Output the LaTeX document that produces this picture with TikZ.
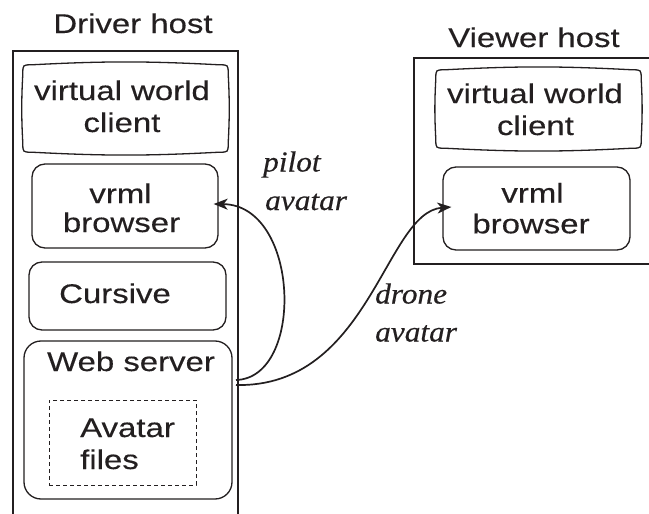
\documentclass[tikz,border=0pt]{standalone}
\usepackage{fontspec}
\setmainfont{Liberation Sans}[FakeStretch=1.22,FakeBold=0.3]
\newfontfamily\annotfont{Liberation Serif}[FakeStretch=1.08,FakeBold=0.4]
\usetikzlibrary{arrows.meta}
\definecolor{ink}{HTML}{231F20}

% outline of a "screen" box: slightly bowed edges with rounded corners
\newcommand\screenoutline[1]{%
  \draw[screenline] ([xshift=9pt]#1.north west) to[bend left=3] ([xshift=-9pt]#1.north east)
    .. controls (#1.north east) .. ([yshift=-9pt]#1.north east)
    to[bend left=3] ([yshift=9pt]#1.south east)
    .. controls (#1.south east) .. ([xshift=-9pt]#1.south east)
    to[bend left=3] ([xshift=9pt]#1.south west)
    .. controls (#1.south west) .. ([yshift=9pt]#1.south west)
    to[bend left=3] ([yshift=-9pt]#1.north west)
    .. controls (#1.north west) .. ([xshift=9pt]#1.north west) -- cycle;}

\begin{document}
\begin{tikzpicture}[x=1pt,y=-1pt,
  hostframe/.style={draw=ink, line width=2pt, inner sep=0pt, anchor=north west},
  part/.style={draw=ink, line width=1.3pt, rounded corners=13pt, inner sep=0pt},
  screenpart/.style={inner sep=0pt},
  screenline/.style={draw=ink, line width=1.3pt},
  store/.style={draw=ink, line width=1pt, dash pattern=on 4pt off 3pt, inner sep=0pt},
  txt/.style={text=ink, font=\fontsize{27}{32}\selectfont, anchor=base, inner sep=0pt},
  lbl/.style={text=ink, font=\annotfont\itshape\fontsize{29}{34}\selectfont, anchor=base west, inner sep=0pt},
  flow/.style={draw=ink, line width=1.7pt, -{Stealth[length=14pt,width=11pt,inset=4pt]}}
]
\clip (0,0) rectangle (649,514);
\fill[white] (0,0) rectangle (649,514);

% host frames (open towards the page edges)
\node[hostframe, minimum width=225pt, minimum height=490pt] (driver) at (12,50) {};
\node[hostframe, minimum width=250pt, minimum height=206pt] (viewer) at (413,57) {};
\node[txt] (driverlabel) at (133,33) {Driver host};
\node[txt] (viewerlabel) at (534,47) {Viewer host};

% driver host components
\node[screenpart, minimum width=205pt, minimum height=87pt] (dvwc) at (125.5,108.5) {};
\screenoutline{dvwc}
\node[txt] (dvwc1) at (122,100) {virtual world};
\node[txt] (dvwc2) at (122,132) {client};

\node[part, minimum width=186pt, minimum height=84pt] (dvrml) at (125,206) {};
\node[txt] (dvrml1) at (120.5,203) {vrml};
\node[txt] (dvrml2) at (121.5,232) {browser};

\node[part, minimum width=197pt, minimum height=68pt] (cursive) at (127.5,296) {};
\node[txt] (cursivetxt) at (115,303) {Cursive};

\node[part, rounded corners=17pt, minimum width=208pt, minimum height=158pt] (web) at (128,420) {};
\node[txt] (webtxt) at (131,371) {Web server};

\node[store, minimum width=147pt, minimum height=85pt] (files) at (122.5,442.5) {};
\node[txt, anchor=base west] (files1) at (80,437) {Avatar};
\node[txt, anchor=base west] (files2) at (80,469) {files};

% viewer host components
\node[screenpart, minimum width=205pt, minimum height=78pt] (vvwc) at (538.5,109) {};
\screenoutline{vvwc}
\node[txt] (vvwc1) at (535,103) {virtual world};
\node[txt] (vvwc2) at (535.5,135) {client};

\node[part, minimum width=187pt, minimum height=83pt] (vvrml) at (536.5,208.5) {};
\node[txt] (vvrml1) at (532.5,202.5) {vrml};
\node[txt] (vvrml2) at (531,233.3) {browser};

% avatar transfers out of the web server
\coordinate (pilotout) at (236,380);
\coordinate (droneout) at (236,385);
\draw[flow] (pilotout) .. controls (305,378) and (300,205) .. ([xshift=-5pt,yshift=2pt]dvrml.east);
\draw[flow] (droneout) .. controls (370,388) and (385,212) .. ([xshift=9pt,yshift=1.5pt]vvrml.west);

\node[lbl] (pilot1) at (263,171.5) {pilot};
\node[lbl] (pilot2) at (265,210) {avatar};
\node[lbl] (drone1) at (375,303.5) {drone};
\node[lbl] (drone2) at (375,341.5) {avatar};
\end{tikzpicture}
\end{document}
